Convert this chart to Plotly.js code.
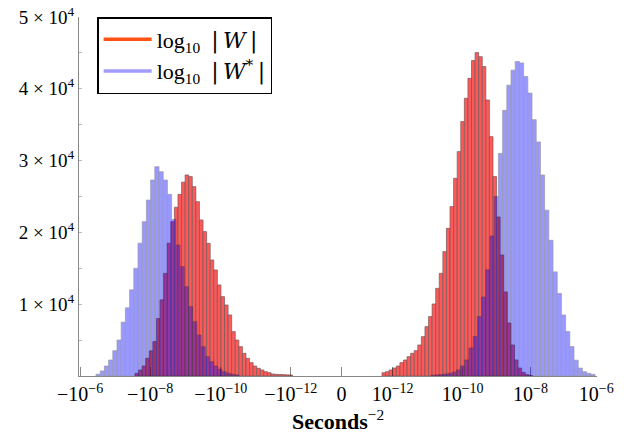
<!DOCTYPE html>
<html><head><meta charset="utf-8">
<script src="https://cdn.plot.ly/plotly-3.0.1.min.js"></script>
<style>html,body{margin:0;padding:0;background:#fff}</style>
</head><body><div id="chart" style="width:626px;height:434px"></div>
<script>
// x axis is a symmetric-log coordinate: 1 unit = 1 decade, 0 in the middle
const xTickVals = [-7.47, -5.47, -3.45, -1.45, 0, 1.46, 3.46, 5.4, 7.28];
const xTickText = ['−10<sup>−6</sup>', '−10<sup>−8</sup>', '−10<sup>−10</sup>', '−10<sup>−12</sup>', '0',
                   '10<sup>−12</sup>', '10<sup>−10</sup>', '10<sup>−8</sup>', '10<sup>−6</sup>'];
const yTickVals = [0, 5000, 10000, 15000, 20000, 25000, 30000, 35000, 40000, 45000, 50000];
const yTickText = ['', '', '1 × 10<sup>4</sup>', '', '2 × 10<sup>4</sup>', '', '3 × 10<sup>4</sup>', '', '4 × 10<sup>4</sup>', '', '5 × 10<sup>4</sup>'];

// log10|W| histogram
const redBinWidth = 0.1023;
const redNegStart = -5.9;
const redNegCounts = [370, 830, 1390, 2460, 3500, 4800, 8000, 10600, 14300, 18500, 21500, 23500, 25300, 27000, 28000,
  27770, 26370, 24280, 21730, 20110, 18480, 16160, 14770, 12680, 11050, 9890, 8500, 6180, 5010, 4090, 3160, 2460,
  1860, 1390, 1070, 840, 600, 460, 280, 230, 210, 190, 160, 140];
const redPosStart = 1.157;
const redPosCounts = [460, 600, 840, 1110, 1390, 1860, 2230, 2690, 3160, 3530, 4320, 5480, 6870, 8270, 10030, 12210,
  14300, 17320, 20570, 23590, 27530, 31250, 35430, 38680, 41460, 43930, 45040, 44480, 43090, 38440, 33340, 27770,
  22150, 16850, 11700, 7380, 4320, 2230, 1110, 500, 200, 80];

// log10|W*| histogram
const blueBinWidth = 0.12;
const blueNegStart = -7.014;
const blueNegCounts = [250, 700, 1390, 2230, 3530, 5010, 7500, 9500, 12000, 15000, 18500, 21500, 24500, 27300, 29160,
  28460, 27300, 25300, 21800, 18250, 15230, 12440, 9660, 7570, 5710, 4080, 2690, 1990, 1390, 930, 600, 400, 250, 150];
const bluePosStart = 2.563;
const bluePosCounts = [100, 150, 200, 280, 370, 550, 850, 1400, 2230, 3900, 5500, 8300, 11000, 14800, 19500, 25000,
  31000, 37000, 40500, 42600, 43800, 43600, 41700, 39400, 35700, 32600, 28000, 23100, 18900, 14500, 11500, 8500,
  6200, 4100, 2200, 1100, 600, 370, 230];

function centers(start, width, counts) {
  return counts.map((_, i) => start + (i + 0.5) * width);
}

const redX = centers(redNegStart, redBinWidth, redNegCounts).concat(centers(redPosStart, redBinWidth, redPosCounts));
const redY = redNegCounts.concat(redPosCounts);
const blueX = centers(blueNegStart, blueBinWidth, blueNegCounts).concat(centers(bluePosStart, blueBinWidth, bluePosCounts));
const blueY = blueNegCounts.concat(bluePosCounts);

const serif = 'Liberation Serif, DejaVu Serif, serif';
const mathW = '<span style="font-family:\'DejaVu Serif\'">|\u2009<i>W</i>\u2009|</span>';
const mathWs = '<span style="font-family:\'DejaVu Serif\'">|\u2009<i>W</i><sup>*</sup>\u2009|</span>';

const traces = [
  {type: 'bar', x: redX, y: redY, width: redBinWidth, showlegend: false, hoverinfo: 'skip',
   marker: {color: 'rgb(255,0,0)', line: {color: 'rgb(40,0,0)', width: 0.7}}, opacity: 0.65},
  {type: 'bar', x: blueX, y: blueY, width: blueBinWidth, showlegend: false, hoverinfo: 'skip',
   marker: {color: 'rgb(0,0,255)', line: {color: 'rgb(0,0,40)', width: 0.7}}, opacity: 0.4},
  {type: 'scatter', mode: 'lines', x: [null], y: [null], name: 'log<sub>10</sub>  ' + mathW,
   line: {color: '#ff5214', width: 3.5}},
  {type: 'scatter', mode: 'lines', x: [null], y: [null], name: 'log<sub>10</sub>  ' + mathWs,
   line: {color: '#a29cff', width: 3.5}}
];

const layout = {
  width: 626, height: 434,
  margin: {l: 79, r: 29, t: 17, b: 58},
  paper_bgcolor: '#fff', plot_bgcolor: '#fff',
  barmode: 'overlay', bargap: 0,
  font: {family: serif, size: 19, color: '#000'},
  showlegend: true,
  legend: {x: 0.035, y: 1, xanchor: 'left', yanchor: 'top', bgcolor: '#fff',
           bordercolor: '#000', borderwidth: 1.5, font: {family: serif, size: 22},
           tracegroupgap: 0, itemwidth: 48},
  xaxis: {range: [-7.5, 7.3], tickmode: 'array', tickvals: xTickVals, ticktext: xTickText,
          showgrid: false, zeroline: false, showline: true, linecolor: '#888', linewidth: 1,
          ticks: 'inside', ticklen: 9, tickcolor: '#888', layer: 'below traces',
          tickfont: {family: serif, size: 20},
          title: {text: '<b>Seconds</b><sup>−2</sup>', font: {family: serif, size: 22}, standoff: 10}},
  yaxis: {range: [0, 50000], tickmode: 'array', tickvals: yTickVals, ticktext: yTickText,
          showgrid: false, zeroline: false, showline: true, linecolor: '#888', linewidth: 1,
          ticks: 'inside', ticklen: 3, tickcolor: '#bbb', layer: 'below traces',
          tickfont: {family: serif, size: 19}}
};

Plotly.newPlot('chart', traces, layout, {staticPlot: true, displayModeBar: false});
</script></body></html>
